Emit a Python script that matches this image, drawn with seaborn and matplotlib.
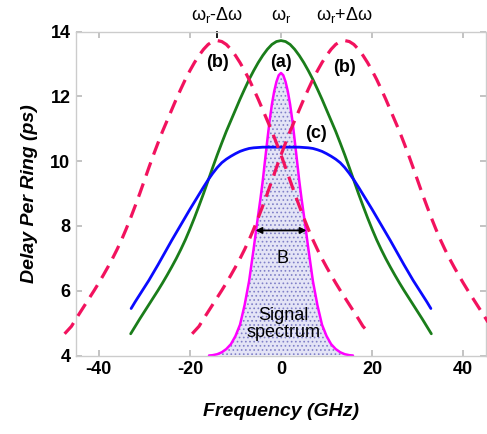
import numpy as np
import pandas as pd
import matplotlib
matplotlib.use("Agg")
import matplotlib.pyplot as plt
import seaborn as sns

# ---- data ----
GREEN_X = list(range(-33, 34))
GREEN_Y = [4.67, 4.9, 5.13, 5.35, 5.57, 5.79, 6.01, 6.24, 6.48, 6.73, 6.99, 7.27, 7.57, 7.9, 8.25, 8.62, 9.0,
           9.4, 9.8, 10.19, 10.56, 10.92, 11.25, 11.58, 11.91, 12.22, 12.52, 12.79, 13.04, 13.26, 13.45,
           13.6, 13.69, 13.72,
           13.69, 13.6, 13.45, 13.26, 13.04, 12.79, 12.52, 12.22, 11.91, 11.58, 11.25, 10.92, 10.56, 10.19,
           9.8, 9.4, 9.0, 8.62, 8.25, 7.9, 7.57, 7.27, 6.99, 6.73, 6.48, 6.24, 6.01, 5.79, 5.57, 5.35,
           5.13, 4.9, 4.67]

BLUE_X = [-32.9] + list(range(-32, 33)) + [32.9]
BLUE_Y = [5.45, 5.66, 5.88, 6.1, 6.32, 6.56, 6.8, 7.05, 7.3, 7.55, 7.79, 8.03, 8.27, 8.51, 8.74, 8.97, 9.2,
          9.42, 9.62, 9.8, 9.95, 10.06, 10.15, 10.23, 10.3, 10.35, 10.39, 10.41, 10.42, 10.43, 10.43, 10.43,
          10.43, 10.43,
          10.43, 10.43, 10.43, 10.43, 10.42, 10.41, 10.39, 10.35, 10.3, 10.23, 10.15, 10.06, 9.95, 9.8,
          9.62, 9.42, 9.2, 8.97, 8.74, 8.51, 8.27, 8.03, 7.79, 7.55, 7.3, 7.05, 6.8, 6.56, 6.32, 6.1,
          5.88, 5.66, 5.45]

PINK_L_X = [-47.5] + list(range(-46, 19)) + [19.5]
PINK_R_X = [-19.5] + list(range(-18, 47)) + [47.5]
PINK_Y = [4.67, 4.9, 5.13, 5.35, 5.57, 5.79, 6.01, 6.24, 6.48, 6.73, 6.99, 7.27, 7.57, 7.9, 8.25, 8.62, 9.0,
          9.4, 9.8, 10.19, 10.56, 10.92, 11.25, 11.58, 11.91, 12.22, 12.52, 12.79, 13.04, 13.26, 13.45,
          13.6, 13.69, 13.72,
          13.69, 13.6, 13.45, 13.26, 13.04, 12.79, 12.52, 12.22, 11.91, 11.58, 11.25, 10.92, 10.56, 10.19,
          9.8, 9.4, 9.0, 8.62, 8.25, 7.9, 7.57, 7.27, 6.99, 6.73, 6.48, 6.24, 6.01, 5.79, 5.57, 5.35,
          5.13, 4.9, 4.67]

SPEC_X = [-15.8, -15, -14, -13, -12, -11, -10, -9, -8, -7, -6, -5.5, -5, -4.5, -4, -3.5, -3, -2.5, -2,
          -1.5, -1, -0.5, 0, 0.5, 1, 1.5, 2, 2.5, 3, 3.5, 4, 4.5, 5, 5.5, 6, 7, 8, 9, 10, 11, 12, 13, 14,
          15, 15.8]
SPEC_Y = [4.0, 4.01, 4.04, 4.1, 4.2, 4.35, 4.6, 4.95, 5.55, 6.3, 7.3, 7.83, 8.35, 8.85, 9.4, 10.03, 10.65,
          11.25, 11.75, 12.15, 12.45, 12.65, 12.72, 12.65, 12.45, 12.15, 11.75, 11.25, 10.65, 10.03, 9.4,
          8.85, 8.35, 7.83, 7.3, 6.3, 5.55, 4.95, 4.6, 4.35, 4.2, 4.1, 4.04, 4.01, 4.0]

B_ARROW_X = [-5.6, 5.6]
B_ARROW_Y = 7.86

X_TICKS = [-40, -20, 0, 20, 40]
Y_TICKS = [4, 6, 8, 10, 12, 14]
TOP_TICKS = [-14, 0, 14]
TOP_LABELS = [r"$\omega_r$-$\Delta\omega$", r"$\omega_r$", r"$\omega_r$+$\Delta\omega$"]

# ---- style ----
sns.set_theme(style="white")
plt.rcParams["font.family"] = ["Liberation Sans", "DejaVu Sans"]
plt.rcParams["mathtext.fontset"] = "custom"
plt.rcParams["mathtext.rm"] = "Liberation Sans"
plt.rcParams["mathtext.it"] = "Liberation Sans"
plt.rcParams["mathtext.bf"] = "Liberation Sans:bold"
for k in ["text.color", "axes.labelcolor", "xtick.color", "ytick.color"]:
    plt.rcParams[k] = "black"
plt.rcParams["hatch.linewidth"] = 0.7

fig = plt.figure(figsize=(4.87, 4.34), dpi=100)
ax = fig.add_axes([76 / 487, 1 - 355.5 / 434, 410 / 487, 324 / 434])

GREEN = "#1a7d1a"
BLUE = "#0a0aff"
PINK = "#f2125e"
MAGENTA = "#ff00ff"

# signal spectrum
spec = pd.DataFrame({"x": SPEC_X, "y": SPEC_Y})
ax.fill_between(spec["x"], 4, spec["y"], facecolor="#e4e4f6", edgecolor="#8080c8",
                hatch="....", linewidth=0, zorder=1)
sns.lineplot(data=spec, x="x", y="y", ax=ax, color=MAGENTA, lw=1.8, sort=False, zorder=2)

sns.lineplot(x=GREEN_X, y=GREEN_Y, ax=ax, color=GREEN, lw=2.0, sort=False, zorder=3)
sns.lineplot(x=BLUE_X, y=BLUE_Y, ax=ax, color=BLUE, lw=2.0, sort=False, zorder=4)
for px_ in [PINK_L_X, PINK_R_X]:
    sns.lineplot(x=px_, y=PINK_Y, ax=ax, color=PINK, lw=2.3, sort=False, zorder=5,
                 clip_on=False)
for ln in ax.lines[-2:]:
    ln.set_dashes((4.4, 2.6))

# arrow B
ax.annotate("", xy=(B_ARROW_X[0], B_ARROW_Y), xytext=(B_ARROW_X[1], B_ARROW_Y),
            arrowprops=dict(arrowstyle="<|-|>", color="black", lw=1.3,
                            mutation_scale=9, shrinkA=0, shrinkB=0), zorder=6)

# labels
lbl = dict(fontsize=13, fontweight="bold", ha="center", va="center", zorder=7)
ax.text(-14, 13.05, "(b)", **lbl)
ax.text(0, 13.05, "(a)", **lbl)
ax.text(14, 12.9, "(b)", **lbl)
ax.text(7.7, 10.85, "(c)", **lbl)
ax.text(0.3, 7.0, "B", fontsize=13, ha="center", va="center", zorder=7)
ax.text(0.5, 4.97, "Signal\nspectrum", fontsize=13, ha="center", va="center",
        linespacing=1.0, zorder=7)

ax.set_xlim(-45, 45)
ax.set_ylim(4, 14)
ax.set_xticks(X_TICKS)
ax.set_yticks(Y_TICKS)
ax.set_xticklabels([str(v) for v in X_TICKS], fontsize=13, fontweight="bold")
ax.set_yticklabels([str(v) for v in Y_TICKS], fontsize=13, fontweight="bold")
ax.tick_params(direction="in", length=4, color="#bbbbbb", top=True, right=True,
               bottom=True, left=True, pad=4)
for s in ax.spines.values():
    s.set_color("#cccccc")
    s.set_linewidth(1.0)

ax.set_xlabel("Frequency (GHz)", fontsize=14, fontweight="bold", fontstyle="italic", labelpad=18)
ax.set_ylabel("Delay Per Ring (ps)", fontsize=14, fontweight="bold", fontstyle="italic", labelpad=9)

sec = ax.secondary_xaxis("top")
sec.set_xticks(TOP_TICKS, labels=TOP_LABELS)
sec.tick_params(direction="in", length=5, color="black", labelsize=13, pad=5)
sec.spines["top"].set_visible(False)
for t in sec.xaxis.get_major_ticks()[1:]:
    t.tick1line.set_visible(False)
    t.tick2line.set_visible(False)

fig.savefig("out.png", dpi=100)
